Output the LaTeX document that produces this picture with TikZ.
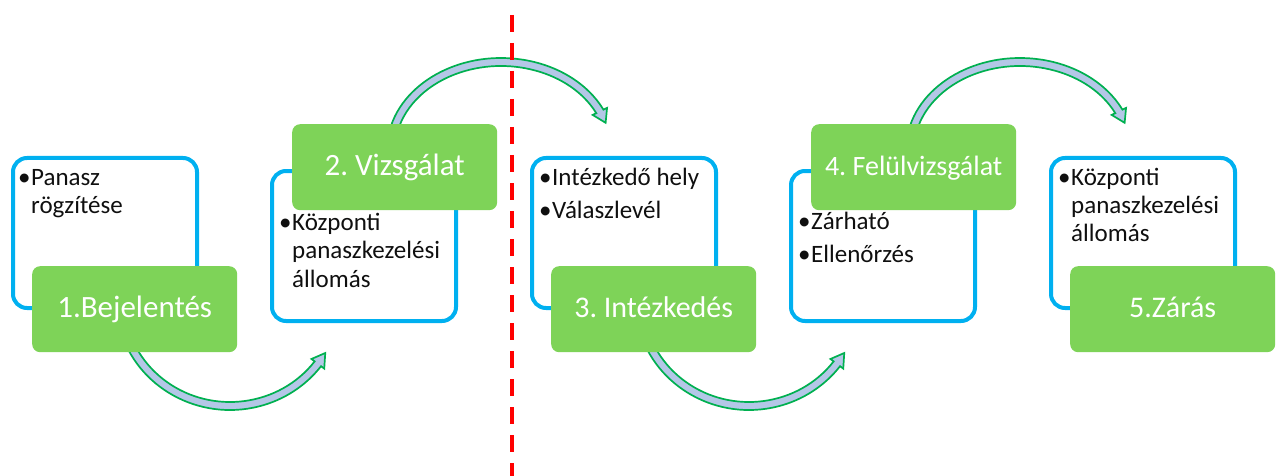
\documentclass[tikz,border=0pt]{standalone}
\usepackage{fontspec}
\setmainfont{Carlito}
\definecolor{boxblue}{RGB}{0,176,240}
\definecolor{boxgreen}{RGB}{126,211,88}
\definecolor{arrowfill}{RGB}{180,199,231}
\definecolor{arrowline}{RGB}{0,176,80}
\definecolor{divred}{RGB}{255,0,0}
\definecolor{itemblack}{RGB}{15,15,15}
\newcommand{\bul}{\makebox[13pt][l]{•}}
\frenchspacing
\begin{document}
\begin{tikzpicture}[x=1pt,y=1pt,
  bluebox/.style={draw=boxblue, line width=4pt, rounded corners=14pt,
    minimum width=184pt, minimum height=150pt, anchor=north west, inner sep=0pt},
  greenbox/.style={fill=boxgreen, rounded corners=8pt, minimum width=205pt,
    minimum height=86pt, anchor=north west, inner sep=0pt, text=white,
    text height=17pt, text depth=0pt, font=\fontsize{31}{37}\selectfont},
  itemtext/.style={anchor=base west, inner sep=0pt, text=itemblack,
    font=\fontsize{25}{28.5}\selectfont},
  curvearrow/.style={fill=arrowfill, draw=arrowline, line width=1.7pt, line join=miter},
  divider/.style={draw=divred, line width=3.5pt, dash pattern=on 17pt off 11pt}]
\useasboundingbox (0,0) rectangle (1277,-476);

% blue outline boxes
\node[bluebox] (b1) at (11,-156) {};
\node[bluebox] (b2) at (270,-169) {};
\node[bluebox] (b3) at (530,-156) {};
\node[bluebox] (b4) at (789,-169) {};
\node[bluebox] (b5) at (1049,-156) {};

% curved arrows
\foreach \dx in {0,519} {
  \begin{scope}[shift={(230+\dx,-300)}]
    \filldraw[curvearrow] (195:114pt and 110pt)
      arc[start angle=195,end angle=323,x radius=114pt,y radius=110pt]
      -- (323:118pt and 114pt) -- (330:110pt and 106pt) -- (323:102pt and 98pt)
      -- (323:106pt and 102pt)
      arc[start angle=323,end angle=195,x radius=106pt,y radius=102pt] -- cycle;
  \end{scope}
  \begin{scope}[shift={(501+\dx,-150)}]
    \filldraw[curvearrow] (170:114pt and 92pt)
      arc[start angle=170,end angle=26,x radius=114pt,y radius=92pt]
      -- (26:118pt and 96pt) -- (18:110pt and 88pt) -- (26:102pt and 80pt)
      -- (26:106pt and 84pt)
      arc[start angle=26,end angle=170,x radius=106pt,y radius=84pt] -- cycle;
  \end{scope}
}

% green title boxes
\node[greenbox] (g1) at (32,-266) {1.Bejelentés};
\node[greenbox] (g2) at (292,-124) {2. Vizsgálat};
\node[greenbox, font=\fontsize{30}{36}\selectfont] (g3) at (551,-266) {3. Intézkedés};
\node[greenbox, font=\fontsize{28}{34}\selectfont] (g4) at (811,-124) {4. Felülvizsgálat};
\node[greenbox, font=\fontsize{30}{36}\selectfont] (g5) at (1070,-266) {5.Zárás};

% bullet texts
\node[itemtext] (t1) at (18,-185) {\begin{tabular}[t]{@{}l@{}l@{}}\bul&Panasz\\&rögzítése\end{tabular}};
\node[itemtext] (t2) at (279,-230) {\begin{tabular}[t]{@{}l@{}l@{}}\bul&Központi\\&panaszkezelési\\&állomás\end{tabular}};
\node[itemtext] (t3) at (539,-185) {\begin{tabular}[t]{@{}l@{}l@{}}\bul&Intézkedő hely\\[5pt]\bul&Válaszlevél\end{tabular}};
\node[itemtext] (t4) at (798,-229) {\begin{tabular}[t]{@{}l@{}l@{}}\bul&Zárható\\[5pt]\bul&Ellenőrzés\end{tabular}};
\node[itemtext] (t5) at (1058,-185) {\begin{tabular}[t]{@{}l@{}l@{}}\bul&Központi\\&panaszkezelési\\&állomás\end{tabular}};

% red dashed divider
\coordinate (dtop) at (512,-15);
\coordinate (dbot) at (512,-476);
\draw[divider] (dtop) -- (dbot);
\end{tikzpicture}
\end{document}
